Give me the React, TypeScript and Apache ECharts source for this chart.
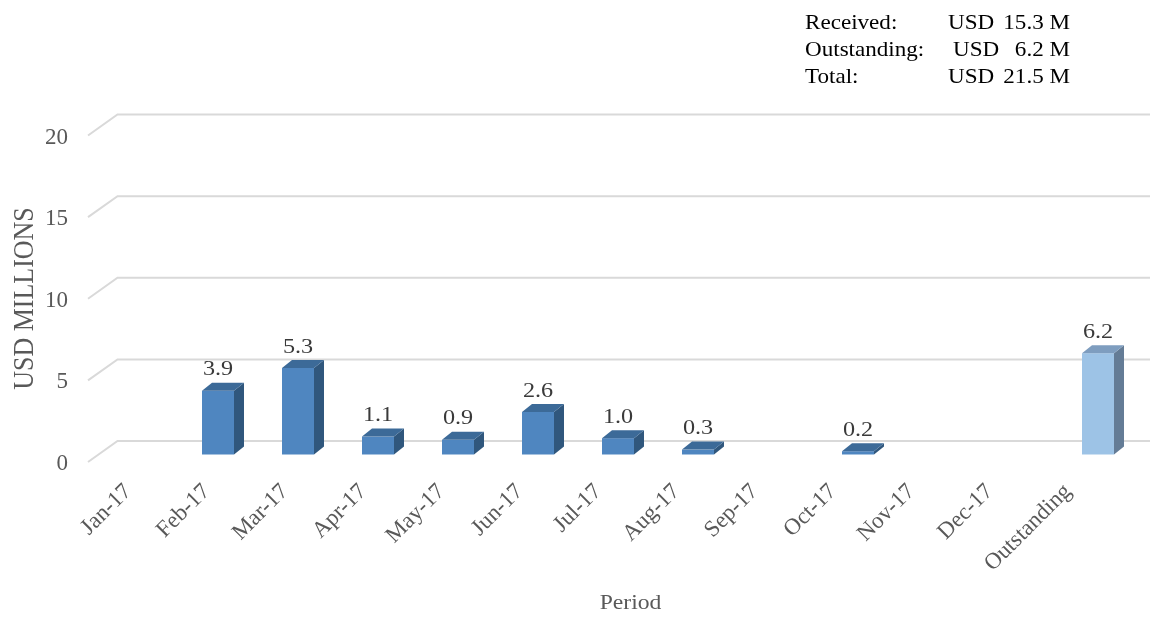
import React, { useEffect, useRef } from 'react';
import * as echarts from 'echarts';

const categories = ['Jan-17', 'Feb-17', 'Mar-17', 'Apr-17', 'May-17', 'Jun-17', 'Jul-17', 'Aug-17', 'Sep-17', 'Oct-17', 'Nov-17', 'Dec-17', 'Outstanding'];
const receivedValues: (number | null)[] = [null, 3.9, 5.3, 1.1, 0.9, 2.6, 1.0, 0.3, null, 0.2, null, null, null];
const outstandingValues: (number | null)[] = [null, null, null, null, null, null, null, null, null, null, null, null, 6.2];
const yTicks = [0, 5, 10, 15, 20];
const summaryLabels = ['Received:', 'Outstanding:', 'Total:'];
const summaryCurrency = ['USD', 'USD', 'USD'];
const summaryAmounts = ['15.3 M', '6.2 M', '21.5 M'];
const yAxisTitle = 'USD MILLIONS';
const xAxisTitle = 'Period';

const FONT = '"Liberation Serif", "Times New Roman", serif';
const DX = 10;
const DY = 8;
const STRETCH = 1.1;

function toData(vals: (number | null)[]) {
  const out: number[][] = [];
  vals.forEach((v, i) => {
    if (v !== null) out.push([i, v]);
  });
  return out;
}

function barRenderer(front: string, side: string, top: string) {
  return (params: any, api: any) => {
    const idx = api.value(0);
    const v = api.value(1);
    const base = api.coord([idx, 0]);
    const tp = api.coord([idx, v]);
    const w = api.size([1, 0])[0] * 0.4;
    const cx = base[0];
    const by = base[1];
    const ty = tp[1];
    const l = cx - w / 2;
    const r = cx + w / 2;
    return {
      type: 'group',
      children: [
        { type: 'rect', shape: { x: l, y: ty, width: w, height: by - ty }, style: { fill: front } },
        { type: 'polygon', shape: { points: [[r, by], [r + DX, by - DY], [r + DX, ty - DY], [r, ty]] }, style: { fill: side } },
        { type: 'polygon', shape: { points: [[l, ty], [l + DX, ty - DY], [r + DX, ty - DY], [r, ty]] }, style: { fill: top } },
        {
          type: 'text',
          x: cx,
          y: ty - DY - 15,
          scaleX: STRETCH,
          style: {
            text: v.toFixed(1),
            fill: '#3a3a3a',
            font: `22px ${FONT}`,
            align: 'center',
            verticalAlign: 'middle',
            textAlign: 'center',
            textVerticalAlign: 'middle',
          },
        },
      ],
    };
  };
}

function gridRenderer(params: any, api: any) {
  const y = api.coord([0, api.value(1)])[1];
  const cs = params.coordSys;
  const left = cs.x;
  return {
    type: 'polyline',
    shape: { points: [[left - 10, y + 7.5], [left + 19.5, y - 13.5], [cs.x + cs.width + 60, y - 13.5]] },
    style: { stroke: '#d9d9d9', lineWidth: 2, fill: 'none' },
  };
}

function txt(text: string, x: number, y: number, size: number, color: string, align: string, extra: any = {}) {
  return {
    type: 'text',
    x,
    y,
    scaleX: STRETCH,
    ...extra,
    style: {
      text,
      fill: color,
      font: `${size}px ${FONT}`,
      align,
      verticalAlign: 'middle',
      textAlign: align,
      textVerticalAlign: 'middle',
    },
  };
}

export default function App() {
  const ref = useRef<HTMLDivElement>(null);
  useEffect(() => {
    if (!ref.current) return;
    const chart = echarts.init(ref.current, null, { renderer: 'svg' });
    const rowY = [21.5, 48.5, 75.5];
    const currencyX = [948, 953, 948];
    const graphics: any[] = [];
    summaryLabels.forEach((s, i) => graphics.push(txt(s, 805, rowY[i], 21, '#000', 'left')));
    summaryCurrency.forEach((s, i) => graphics.push(txt(s, currencyX[i], rowY[i], 21, '#000', 'left')));
    summaryAmounts.forEach((s, i) => graphics.push(txt(s, 1070, rowY[i], 21, '#000', 'right')));
    graphics.push(txt(xAxisTitle, 630.5, 602, 21.5, '#595959', 'center'));
    graphics.push({
      type: 'text',
      x: 23,
      y: 298.5,
      rotation: Math.PI / 2,
      scaleY: 1.15,
      style: {
        text: yAxisTitle,
        fill: '#595959',
        font: `26px ${FONT}`,
        align: 'center',
        verticalAlign: 'middle',
        textAlign: 'center',
        textVerticalAlign: 'middle',
      },
    });

    chart.setOption({
      animation: false,
      textStyle: { fontFamily: FONT },
      grid: [
        { left: 98, right: 12, top: 128, bottom: 163.5 },
        { left: 88, width: 1018, top: 136, bottom: 156 },
      ],
      xAxis: [
        {
          type: 'category',
          gridIndex: 0,
          data: categories,
          axisLine: { show: false },
          axisTick: { show: false },
          axisLabel: { show: false },
          splitLine: { show: false },
        },
        {
          type: 'category',
          gridIndex: 1,
          data: categories,
          axisLine: { show: false },
          axisTick: { show: false },
          splitLine: { show: false },
          axisLabel: {
            rotate: 45,
            margin: 25,
            interval: 0,
            fontSize: 23,
            color: '#595959',
            fontFamily: FONT,
          },
        },
      ],
      yAxis: [
        {
          type: 'value',
          gridIndex: 0,
          min: 0,
          max: 20,
          interval: 5,
          show: false,
        },
        {
          type: 'value',
          gridIndex: 1,
          min: 0,
          max: 20,
          interval: 5,
          axisLine: { show: false },
          axisTick: { show: false },
          splitLine: { show: false },
          axisLabel: {
            margin: 20,
            fontSize: 23,
            color: '#595959',
            fontFamily: FONT,
          },
        },
      ],
      graphic: graphics,
      series: [
        {
          type: 'custom',
          name: 'gridlines',
          xAxisIndex: 0,
          yAxisIndex: 0,
          silent: true,
          z: 1,
          data: yTicks.map((v) => [0, v]),
          renderItem: gridRenderer,
        },
        {
          type: 'custom',
          name: 'Received',
          xAxisIndex: 0,
          yAxisIndex: 0,
          silent: true,
          z: 2,
          data: toData(receivedValues),
          renderItem: barRenderer('#4F86C0', '#30577D', '#3C6A98'),
        },
        {
          type: 'custom',
          name: 'Outstanding',
          xAxisIndex: 0,
          yAxisIndex: 0,
          silent: true,
          z: 2,
          data: toData(outstandingValues),
          renderItem: barRenderer('#9DC3E6', '#647C96', '#7E9DBF'),
        },
      ],
    });
    return () => chart.dispose();
  }, []);
  return <div ref={ref} style={{ position: 'fixed', left: 0, top: 0, width: 1150, height: 618 }} />;
}
